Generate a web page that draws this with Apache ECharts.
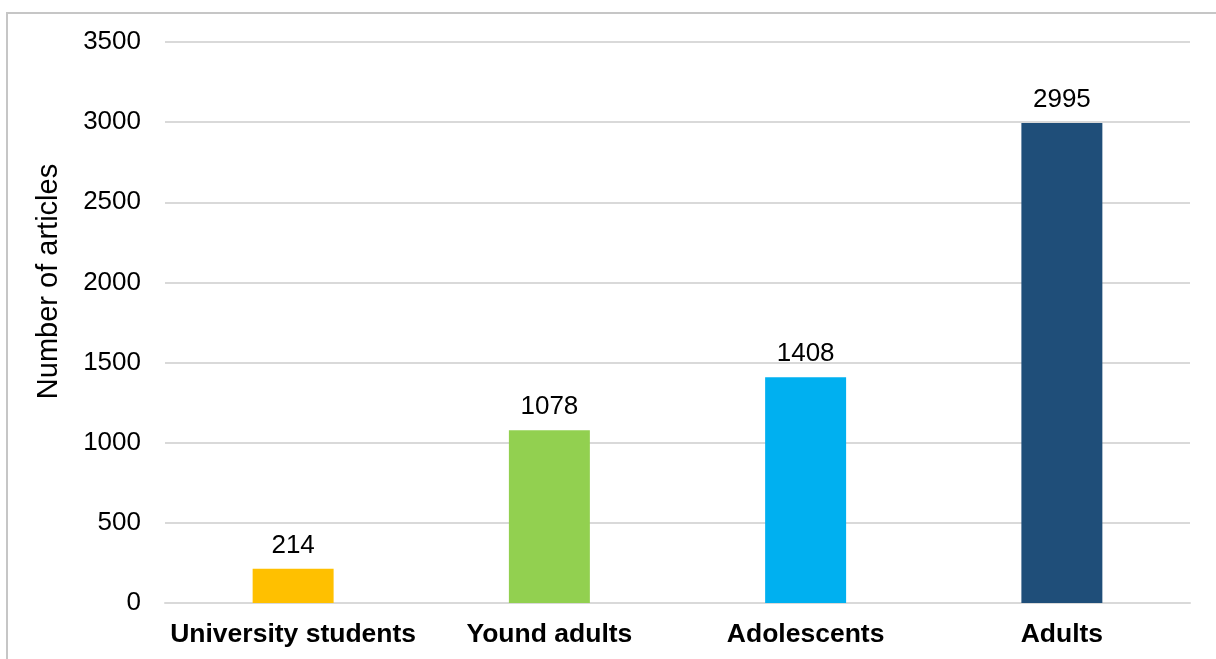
<!DOCTYPE html>
<html>
<head>
<meta charset="utf-8">
<script src="https://cdn.jsdelivr.net/npm/echarts@6/dist/echarts.min.js"></script>
<style>
  html, body { margin: 0; padding: 0; background: #fff; }
  #chart { width: 1216px; height: 659px; }
</style>
</head>
<body>
<div id="chart"></div>
<script>
// Article counts per population group
const categories = ['University students', 'Yound adults', 'Adolescents', 'Adults'];
const articleCounts = [214, 1078, 1408, 2995];
const barColors = ['#FFC000', '#92D050', '#00B0F0', '#1F4E79'];
const yTicks = { min: 0, max: 3500, interval: 500 };

const chart = echarts.init(document.getElementById('chart'), null, { renderer: 'canvas' });
const font = 'Liberation Sans, Arial, sans-serif';

chart.setOption({
  animation: false,
  backgroundColor: '#ffffff',
  graphic: [{
    type: 'rect',
    shape: { x: 7, y: 13, width: 1230, height: 680 },
    style: { fill: 'none', stroke: '#c6c6c6', lineWidth: 2 },
    silent: true
  }],
  grid: { left: 165, right: 26, top: 42, bottom: 56, containLabel: false },
  xAxis: {
    type: 'category',
    data: categories,
    axisLine: { show: true, lineStyle: { color: '#d9d9d9', width: 2 } },
    axisTick: { show: false },
    axisLabel: {
      interval: 0,
      color: '#000', fontFamily: font, fontSize: 26.5, fontWeight: 'bold', margin: 18
    }
  },
  yAxis: {
    type: 'value',
    min: yTicks.min, max: yTicks.max, interval: yTicks.interval,
    name: 'Number of articles',
    nameLocation: 'middle',
    nameGap: 102,
    nameTextStyle: {
      color: '#000', fontFamily: font, fontSize: 29,
      padding: [0, 0, 0, 82]
    },
    axisLine: { show: false },
    axisTick: { show: false },
    axisLabel: {
      color: '#000', fontFamily: font, fontSize: 26, margin: 24,
      formatter: (v) => String(v)
    },
    splitLine: { lineStyle: { color: '#d9d9d9', width: 2 } }
  },
  series: [{
    type: 'bar',
    data: articleCounts.map((v, i) => ({ value: v, itemStyle: { color: barColors[i] } })),
    barWidth: '31.6%',
    label: {
      show: true, position: 'top', distance: 10,
      color: '#000', fontFamily: font, fontSize: 26
    }
  }]
});
</script>
</body>
</html>
